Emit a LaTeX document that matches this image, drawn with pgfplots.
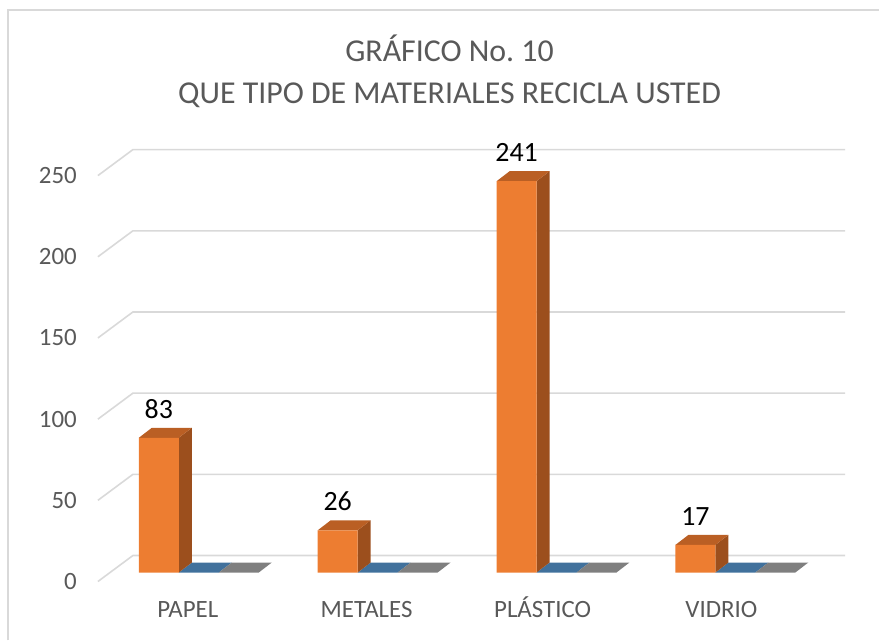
\documentclass[border=0pt]{standalone}
\usepackage{fontspec}
\setmainfont{Carlito}
\usepackage{pgfplots}
\pgfplotsset{compat=1.18}
\definecolor{barfront}{HTML}{ED7D31}
\definecolor{bartop}{HTML}{BA5F24}
\definecolor{barside}{HTML}{9C4F1D}
\definecolor{blueflat}{HTML}{41719C}
\definecolor{greyflat}{HTML}{7F7F7F}
\definecolor{gridc}{HTML}{D9D9D9}
\definecolor{txt}{HTML}{595959}
\tikzset{
  ylab/.style={anchor=east, text=txt, font=\fontsize{25}{29}\selectfont, inner sep=0pt},
  clab/.style={anchor=base, text=txt, font=\fontsize{25}{29}\selectfont, inner sep=0pt},
}
\frenchspacing
\begin{document}
\begin{tikzpicture}
\begin{axis}[
  width=880bp, height=641bp, scale only axis,
  xmin=-1.05587, xmax=3.86034, ymin=-41.846, ymax=352.615,
  hide axis, clip=false,
  /pgf/number format/assume math mode=true,
]
\path (rel axis cs:0,0) rectangle (rel axis cs:1,1);
\draw[gridc, line width=1.5bp] (rel axis cs:0.00909,0) -- (rel axis cs:0.00909,0.9844) -- (rel axis cs:1,0.9844);
% gridlines
\addplot[gridc, line width=1.6bp] coordinates {(-0.5084,-5.54) (-0.3128,10.46) (3.670,10.46)};
\addplot[gridc, line width=1.6bp] coordinates {(-0.5084,44.46) (-0.3128,60.46) (3.670,60.46)};
\addplot[gridc, line width=1.6bp] coordinates {(-0.5084,94.46) (-0.3128,110.46) (3.670,110.46)};
\addplot[gridc, line width=1.6bp] coordinates {(-0.5084,144.46) (-0.3128,160.46) (3.670,160.46)};
\addplot[gridc, line width=1.6bp] coordinates {(-0.5084,194.46) (-0.3128,210.46) (3.670,210.46)};
\addplot[gridc, line width=1.6bp] coordinates {(-0.5084,244.46) (-0.3128,260.46) (3.670,260.46)};
% flat zero-value bars (series 2 and 3)
\addplot[fill=blueflat, draw=none] coordinates {(-0.0559,0) (0.1676,0) (0.2402,6.154) (0.0167,6.154)} -- cycle;
\addplot[fill=greyflat, draw=none] coordinates {(0.1676,0) (0.3911,0) (0.4637,6.154) (0.2402,6.154)} -- cycle;
\addplot[fill=blueflat, draw=none] coordinates {(0.9441,0) (1.1676,0) (1.2402,6.154) (1.0167,6.154)} -- cycle;
\addplot[fill=greyflat, draw=none] coordinates {(1.1676,0) (1.3911,0) (1.4637,6.154) (1.2402,6.154)} -- cycle;
\addplot[fill=blueflat, draw=none] coordinates {(1.9441,0) (2.1676,0) (2.2402,6.154) (2.0167,6.154)} -- cycle;
\addplot[fill=greyflat, draw=none] coordinates {(2.1676,0) (2.3911,0) (2.4637,6.154) (2.2402,6.154)} -- cycle;
\addplot[fill=blueflat, draw=none] coordinates {(2.9441,0) (3.1676,0) (3.2402,6.154) (3.0167,6.154)} -- cycle;
\addplot[fill=greyflat, draw=none] coordinates {(3.1676,0) (3.3911,0) (3.4637,6.154) (3.2402,6.154)} -- cycle;
% side faces
\addplot[fill=barside, draw=none] coordinates {(-0.0559,0) (0.0167,6.154) (0.0167,89.154) (-0.0559,83)} -- cycle;
\addplot[fill=barside, draw=none] coordinates {(0.9441,0) (1.0167,6.154) (1.0167,32.154) (0.9441,26)} -- cycle;
\addplot[fill=barside, draw=none] coordinates {(1.9441,0) (2.0167,6.154) (2.0167,247.154) (1.9441,241)} -- cycle;
\addplot[fill=barside, draw=none] coordinates {(2.9441,0) (3.0167,6.154) (3.0167,23.154) (2.9441,17)} -- cycle;
% top faces
\addplot[fill=bartop, draw=none] coordinates {(-0.2793,83) (-0.0559,83) (0.0167,89.154) (-0.2067,89.154)} -- cycle;
\addplot[fill=bartop, draw=none] coordinates {(0.7207,26) (0.9441,26) (1.0167,32.154) (0.7933,32.154)} -- cycle;
\addplot[fill=bartop, draw=none] coordinates {(1.7207,241) (1.9441,241) (2.0167,247.154) (1.7933,247.154)} -- cycle;
\addplot[fill=bartop, draw=none] coordinates {(2.7207,17) (2.9441,17) (3.0167,23.154) (2.7933,23.154)} -- cycle;
% front faces
\addplot[ybar, bar width=0.2234, bar shift=-0.1676, fill=barfront, draw=none,
  nodes near coords,
  every node near coord/.append style={anchor=base, xshift=-30bp, yshift=19.5bp, text=black, font=\fontsize{28}{32}\selectfont}]
  coordinates {(0,83) (1,26) (2,241) (3,17)};
% y tick labels
\node[ylab] at (axis cs:-0.6257,-5.54) {0};
\node[ylab] at (axis cs:-0.6257,44.46) {50};
\node[ylab] at (axis cs:-0.6257,94.46) {100};
\node[ylab] at (axis cs:-0.6257,144.46) {150};
\node[ylab] at (axis cs:-0.6257,194.46) {200};
\node[ylab] at (axis cs:-0.6257,244.46) {250};
% category labels
\node[clab] at (axis cs:-0.006,-27.69) {PAPEL};
\node[clab] at (axis cs:0.994,-27.69) {METALES};
\node[clab] at (axis cs:1.978,-27.69) {PLÁSTICO};
\node[clab] at (axis cs:2.978,-27.69) {VIDRIO};
% title
\node[anchor=base, text=txt, font=\fontsize{32}{38}\selectfont, inner sep=0pt] at (rel axis cs:0.5113,0.9033) {GRÁFICO No. 10};
\node[anchor=base, text=txt, font=\fontsize{32}{38}\selectfont, inner sep=0pt] at (rel axis cs:0.5113,0.8378) {QUE TIPO DE MATERIALES RECICLA USTED};
\end{axis}
\end{tikzpicture}
\end{document}
